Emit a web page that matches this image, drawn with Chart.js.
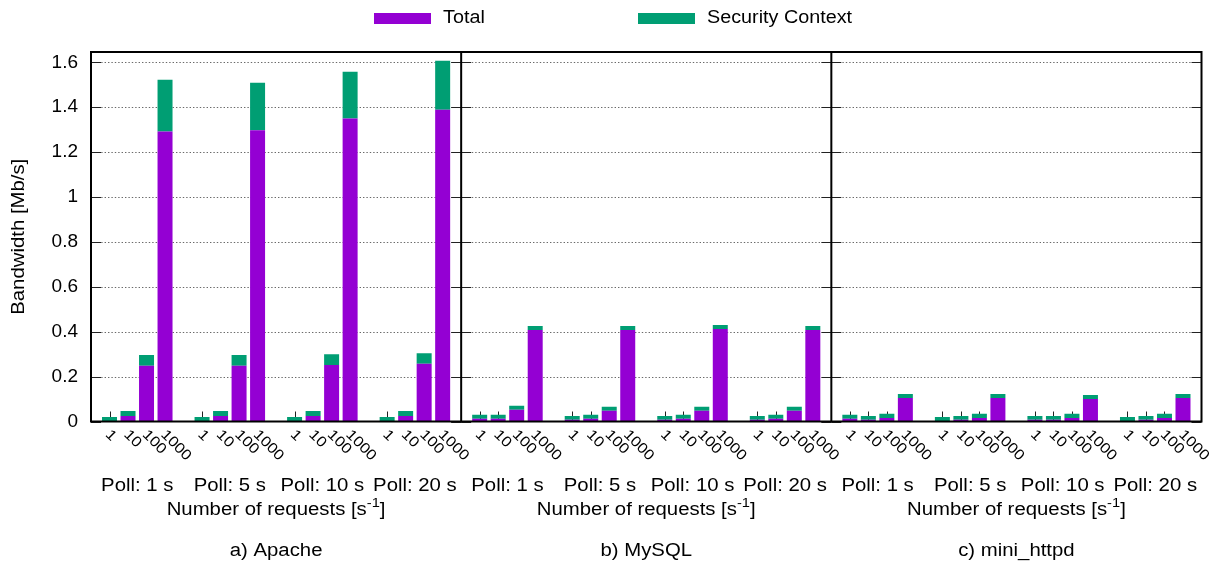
<!DOCTYPE html>
<html><head><meta charset="utf-8">
<script src="https://cdn.jsdelivr.net/npm/chart.js@4/dist/chart.umd.min.js"></script>
<style>html,body{margin:0;padding:0;background:#fff}#wrap{width:1212px;height:571px;position:relative}</style>
</head><body><div id="wrap"><canvas id="c"></canvas></div>
<script>
// ---- data ----
const REQUEST_RATES = ['1', '10', '100', '1000'];
const POLL_INTERVALS = ['Poll: 1 s', 'Poll: 5 s', 'Poll: 10 s', 'Poll: 20 s'];
const SERVERS = ['a) Apache', 'b) MySQL', 'c) mini_httpd'];
const SERIES_NAMES = ['Total', 'Security Context'];
const Y_TICKS = [0, 0.2, 0.4, 0.6, 0.8, 1, 1.2, 1.4, 1.6];
const Y_TITLE = 'Bandwidth [Mb/s]';
const X_TITLE = 'Number of requests [s';
const X_TITLE_SUP = '-1';

// values ordered: poll 1s (1,10,100,1000), poll 5s, poll 10s, poll 20s
const APACHE_TOTAL  = [0.000, 0.024, 0.248, 1.292,  0.000, 0.024, 0.248, 1.297,  0.000, 0.024, 0.252, 1.350,  0.000, 0.024, 0.257, 1.389];
const APACHE_SECCTX = [0.020, 0.023, 0.048, 0.230,  0.020, 0.023, 0.048, 0.212,  0.020, 0.023, 0.048, 0.208,  0.020, 0.023, 0.047, 0.218];
const MYSQL_TOTAL   = [0.012, 0.012, 0.052, 0.408,  0.008, 0.012, 0.048, 0.408,  0.008, 0.012, 0.048, 0.412,  0.008, 0.012, 0.048, 0.408];
const MYSQL_SECCTX  = [0.018, 0.018, 0.018, 0.017,  0.017, 0.018, 0.018, 0.017,  0.017, 0.018, 0.018, 0.018,  0.017, 0.018, 0.018, 0.017];
const MINI_TOTAL    = [0.012, 0.008, 0.016, 0.105,  0.000, 0.008, 0.016, 0.105,  0.008, 0.008, 0.016, 0.100,  0.000, 0.008, 0.016, 0.105];
const MINI_SECCTX   = [0.018, 0.017, 0.018, 0.018,  0.020, 0.017, 0.018, 0.018,  0.017, 0.017, 0.018, 0.018,  0.020, 0.017, 0.018, 0.018];

const COLOR_TOTAL = '#9400d3';
const COLOR_SEC = '#009e73';

// ---- build category axis: per panel 20 slots, bars at 1-4, 6-9, 11-14, 16-19 ----
const PANEL_SLOTS = 20;
const N = SERVERS.length * PANEL_SLOTS + 1;
const labels = new Array(N).fill('');
const totalData = new Array(N).fill(null);
const secData = new Array(N).fill(null);
const totals = [APACHE_TOTAL, MYSQL_TOTAL, MINI_TOTAL];
const secs = [APACHE_SECCTX, MYSQL_SECCTX, MINI_SECCTX];
const barIndex = (s, g, r) => s * PANEL_SLOTS + g * 5 + r + 1;
for (let s = 0; s < SERVERS.length; s++)
  for (let g = 0; g < POLL_INTERVALS.length; g++)
    for (let r = 0; r < REQUEST_RATES.length; r++) {
      const i = barIndex(s, g, r), k = g * 4 + r;
      labels[i] = REQUEST_RATES[r];
      totalData[i] = totals[s][k];
      secData[i] = secs[s][k];
    }

const FONT = '"Liberation Sans", Arial, Helvetica, sans-serif';
const SX = 1.13;
function txt(ctx, s, x, y, size, align, baseline, rot) {
  ctx.save();
  ctx.translate(x, y);
  if (rot) ctx.rotate(rot);
  ctx.scale(SX, 1);
  ctx.font = size + 'px ' + FONT;
  ctx.textAlign = align; ctx.textBaseline = baseline; ctx.fillStyle = '#000';
  ctx.fillText(s, 0, 0);
  ctx.restore();
}
function tw(ctx, s, size) { ctx.save(); ctx.font = size + 'px ' + FONT; const w = ctx.measureText(s).width * SX; ctx.restore(); return w; }

const decor = {
  id: 'decor',
  beforeDatasetsDraw(chart) {
    const { ctx, chartArea: a, scales: { x, y } } = chart;
    ctx.save();
    // dotted grid
    ctx.strokeStyle = '#6a6a6a'; ctx.lineWidth = 1.2; ctx.setLineDash([1.4, 2.0]);
    Y_TICKS.forEach(v => {
      if (v === 0) return;
      const py = Math.round(y.getPixelForValue(v)) + 0.5;
      ctx.beginPath(); ctx.moveTo(a.left, py); ctx.lineTo(a.right, py); ctx.stroke();
    });
    ctx.setLineDash([]);
    // x tick marks (behind bars)
    ctx.strokeStyle = '#222'; ctx.lineWidth = 1;
    labels.forEach((l, i) => {
      if (!l) return;
      const px = Math.round(x.getPixelForValue(i)) + 0.5;
      ctx.beginPath(); ctx.moveTo(px, a.bottom); ctx.lineTo(px, a.bottom - 10); ctx.stroke();
    });
    ctx.restore();
  },
  afterDatasetsDraw(chart) {
    const { ctx, chartArea: a, scales: { x, y } } = chart;
    ctx.save();
    // y tick marks on each panel side
    ctx.strokeStyle = '#222'; ctx.lineWidth = 1;
    const edges = [];
    for (let s = 0; s <= SERVERS.length; s++) edges.push(x.getPixelForValue(s * PANEL_SLOTS));
    Y_TICKS.forEach(v => {
      const py = Math.round(y.getPixelForValue(v)) + 0.5;
      edges.forEach((ex, j) => {
        ctx.beginPath();
        if (j < edges.length - 1) { ctx.moveTo(ex, py); ctx.lineTo(ex + 10, py); }
        if (j > 0) { ctx.moveTo(ex, py); ctx.lineTo(ex - 10, py); }
        ctx.stroke();
      });
    });
    // frame and dividers
    ctx.strokeStyle = '#000'; ctx.lineWidth = 2;
    ctx.strokeRect(a.left, a.top, a.right - a.left, a.bottom - a.top);
    for (let s = 1; s < SERVERS.length; s++) {
      const px = x.getPixelForValue(s * PANEL_SLOTS);
      ctx.beginPath(); ctx.moveTo(px, a.top); ctx.lineTo(px, a.bottom); ctx.stroke();
    }
    // rotated request-rate tick labels
    labels.forEach((l, i) => {
      if (!l) return;
      const px = x.getPixelForValue(i);
      txt(ctx, l, px - 2, a.bottom + 11, 14.5, 'left', 'middle', Math.PI / 4);
    });
    // poll labels, axis titles, server names
    for (let s = 0; s < SERVERS.length; s++) {
      for (let g = 0; g < POLL_INTERVALS.length; g++) {
        const c = (x.getPixelForValue(barIndex(s, g, 0)) + x.getPixelForValue(barIndex(s, g, 3))) / 2;
        txt(ctx, POLL_INTERVALS[g], c, 486, 18, 'center', 'middle');
      }
      const pc = (x.getPixelForValue(s * PANEL_SLOTS) + x.getPixelForValue((s + 1) * PANEL_SLOTS)) / 2;
      const w1 = tw(ctx, X_TITLE, 18), w2 = tw(ctx, X_TITLE_SUP, 13), w3 = tw(ctx, ']', 18);
      let sx = pc - (w1 + w2 + w3) / 2;
      txt(ctx, X_TITLE, sx, 510, 18, 'left', 'middle'); sx += w1;
      txt(ctx, X_TITLE_SUP, sx, 503, 13, 'left', 'middle'); sx += w2;
      txt(ctx, ']', sx, 510, 18, 'left', 'middle');
      txt(ctx, SERVERS[s], pc, 551, 18, 'center', 'middle');
    }
    // y title
    txt(ctx, Y_TITLE, 19, (a.top + a.bottom) / 2, 18, 'center', 'middle', -Math.PI / 2);
    // legend
    const leg = [[374, COLOR_TOTAL, SERIES_NAMES[0]], [638, COLOR_SEC, SERIES_NAMES[1]]];
    leg.forEach(([lx, col, name]) => {
      ctx.fillStyle = col; ctx.fillRect(lx, 13, 57, 11);
      txt(ctx, name, lx + 69, 18.5, 17.5, 'left', 'middle');
    });
    ctx.restore();
  }
};

new Chart(document.getElementById('c'), {
  type: 'bar',
  data: {
    labels,
    datasets: [
      { label: SERIES_NAMES[0], data: totalData, backgroundColor: COLOR_TOTAL, borderWidth: 0 },
      { label: SERIES_NAMES[1], data: secData, backgroundColor: COLOR_SEC, borderWidth: 0 }
    ]
  },
  options: {
    responsive: true, maintainAspectRatio: false, animation: false,
    layout: { padding: { top: 52, right: 10.5, left: 0, bottom: 0 } },
    datasets: { bar: { categoryPercentage: 1, barPercentage: 0.81 } },
    plugins: { legend: { display: false }, tooltip: { enabled: false }, title: { display: false } },
    scales: {
      x: {
        type: 'category', stacked: true, offset: false,
        grid: { display: false }, border: { display: false },
        ticks: { display: false },
        afterFit: s => { s.height = 149.5; }
      },
      y: {
        stacked: true, min: 0, max: 1.646,
        grid: { display: false, drawTicks: false }, border: { display: false },
        afterBuildTicks: s => { s.ticks = Y_TICKS.map(v => ({ value: v })); },
        ticks: { color: '#000', padding: 13, font: { family: 'Liberation Sans', size: 19 },
                 callback: v => String(Math.round(v * 10) / 10) },
        afterFit: s => { s.width = 91; }
      }
    }
  },
  plugins: [decor]
});
</script></body></html>
